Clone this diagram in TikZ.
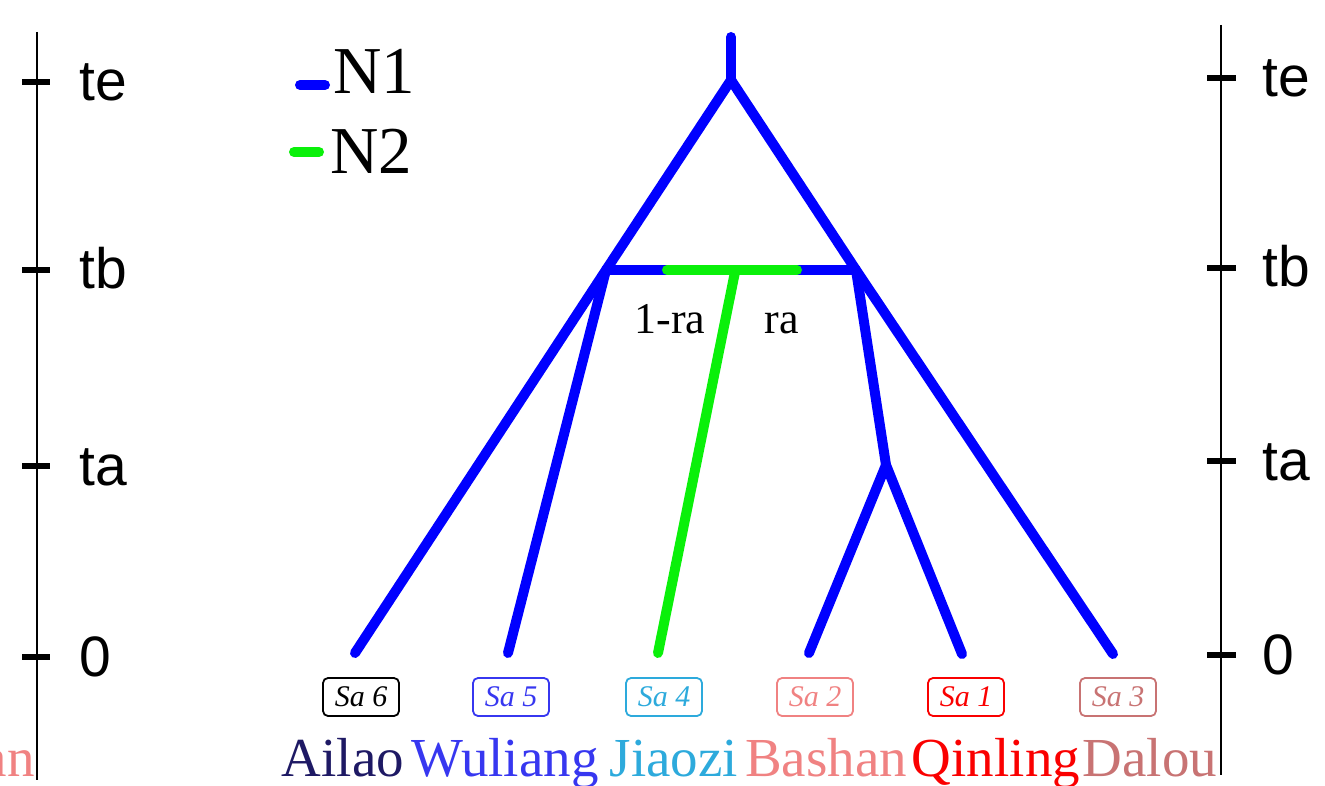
\documentclass[tikz,border=0pt]{standalone}
\usepackage{fontspec}
\setmainfont{Liberation Serif}
\newfontfamily\axisfont{Liberation Sans}
\definecolor{treeblue}{RGB}{0,0,255}
\definecolor{treegreen}{RGB}{10,240,10}
\definecolor{cAilao}{RGB}{30,25,100}
\definecolor{cWuliang}{RGB}{55,55,240}
\definecolor{cJiaozi}{RGB}{45,170,220}
\definecolor{cBashan}{RGB}{240,130,130}
\definecolor{cQinling}{RGB}{250,0,0}
\definecolor{cDalou}{RGB}{200,115,115}
\tikzset{
  branch/.style={line width=10pt, line cap=round, line join=round, treeblue},
  gbranch/.style={line width=10pt, line cap=round, treegreen},
  axisline/.style={line width=1.8pt, black},
  tickmark/.style={line width=6pt, black},
  axislabel/.style={anchor=base west, inner sep=0pt, font=\axisfont\fontsize{57pt}{57pt}\selectfont},
  sabox/.style={draw, rounded corners=5pt, line width=1.8pt, minimum width=76pt, minimum height=38pt, inner sep=0pt, font=\itshape\fontsize{30pt}{30pt}\selectfont},
  popname/.style={anchor=base, inner sep=0pt, font=\fontsize{55pt}{55pt}\selectfont},
  legtext/.style={anchor=base west, inner sep=0pt, font=\fontsize{67pt}{67pt}\selectfont},
  ratext/.style={anchor=base, inner sep=0pt, font=\fontsize{44pt}{44pt}\selectfont}
}
\begin{document}
\begin{tikzpicture}[x=1pt,y=-1pt]
\useasboundingbox (0,0) rectangle (1325,786);
% left axis
\coordinate (la1) at (37,32);
\coordinate (la2) at (37,780);
\draw[axisline] (la1) -- (la2);
\foreach \yy/\lab/\nm in {82/te/lte,270/tb/ltb,466/ta/lta,657/0/lz}{
  \coordinate (\nm a) at (22,\yy);
  \coordinate (\nm b) at (50,\yy);
  \draw[tickmark] (\nm a) -- (\nm b);
  \node[axislabel] (\nm) at (79,\yy+19) {\lab};
}
% right axis
\coordinate (ra1) at (1221,25);
\coordinate (ra2) at (1221,775);
\draw[axisline] (ra1) -- (ra2);
\foreach \yy/\lab/\nm in {78/te/rte,268/tb/rtb,461/ta/rta,655/0/rz}{
  \coordinate (\nm a) at (1207,\yy);
  \coordinate (\nm b) at (1236,\yy);
  \draw[tickmark] (\nm a) -- (\nm b);
  \node[axislabel] (\nm) at (1262,\yy+19) {\lab};
}
% legend
\coordinate (n1a) at (300,85);
\coordinate (n1b) at (325,85);
\draw[branch] (n1a) -- (n1b);
\node[legtext] (n1) at (333,94) {N1};
\coordinate (n2a) at (294,152);
\coordinate (n2b) at (319,152);
\draw[gbranch] (n2a) -- (n2b);
\node[legtext] (n2) at (330,174) {N2};
% tree coordinates
\coordinate (top) at (731,37);
\coordinate (root) at (731,80);
\coordinate (L) at (606,270);
\coordinate (R) at (856,270);
\coordinate (G1) at (667,270);
\coordinate (G2) at (797,270);
\coordinate (Gs) at (735,272);
\coordinate (Q) at (886,465);
\coordinate (s6) at (355,653);
\coordinate (s5) at (508,653);
\coordinate (s4) at (658,653);
\coordinate (s2) at (809,653);
\coordinate (s1) at (962,654);
\coordinate (s3) at (1113,654);
% tree
\draw[branch] (top) -- (root);
\draw[branch] (s6) -- (L) -- (root) -- (R) -- (s3);
\draw[branch] (L) -- (R);
\draw[branch] (L) -- (s5);
\draw[branch] (R) -- (Q);
\draw[branch] (s2) -- (Q) -- (s1);
\draw[gbranch] (G1) -- (G2);
\draw[gbranch] (Gs) -- (s4);
\node[ratext] (lra) at (670,333) {1-ra};
\node[ratext] (rra) at (782,333) {ra};
% sample boxes
\node[sabox, draw=black, text=black] (b6) at (361,697) {Sa 6};
\node[sabox, draw=cWuliang, text=cWuliang] (b5) at (511,697) {Sa 5};
\node[sabox, draw=cJiaozi, text=cJiaozi] (b4) at (664,697) {Sa 4};
\node[sabox, draw=cBashan, text=cBashan] (b2) at (815,697) {Sa 2};
\node[sabox, draw=cQinling, text=cQinling] (b1) at (966,697) {Sa 1};
\node[sabox, draw=cDalou, text=cDalou] (b3) at (1118,697) {Sa 3};
% population names
\node[popname, text=cAilao] (pA) at (343,776) {Ailao};
\node[popname, text=cWuliang] (pW) at (505,776) {Wuliang};
\node[popname, text=cJiaozi] (pJ) at (674,776) {Jiaozi};
\node[popname, text=cBashan] (pB) at (826,776) {Bashan};
\node[popname, text=cQinling] (pQ) at (996,776) {Qinling};
\node[popname, text=cDalou] (pD) at (1150,776) {Dalou};
\node[popname, anchor=base east, text=cBashan] (pcut) at (35,776) {an};
\end{tikzpicture}
\end{document}
